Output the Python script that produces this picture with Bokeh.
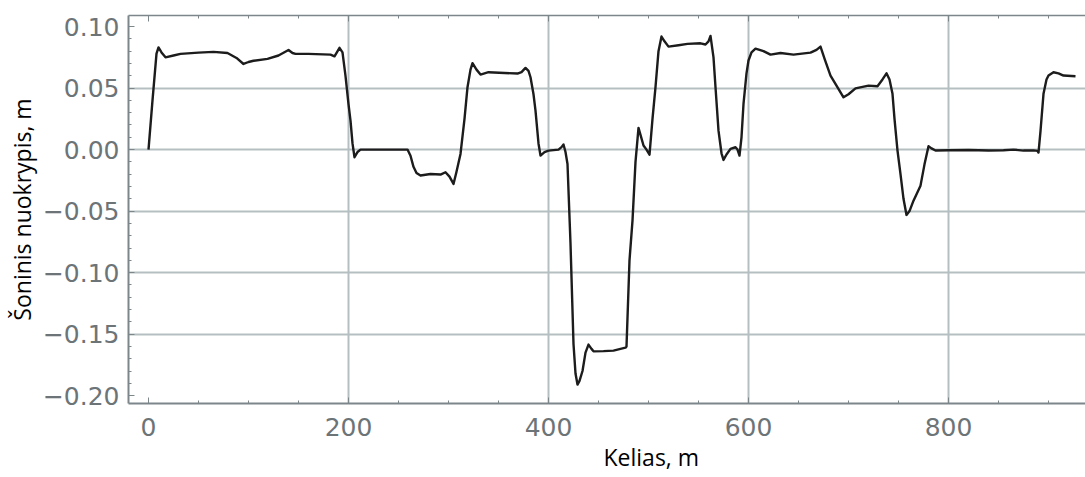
from bokeh.plotting import figure
from bokeh.models import Range1d, FixedTicker, LinearAxis, Title, ColumnDataSource
from bokeh.embed import file_html
from bokeh.resources import INLINE

# ---- data ----
distance_m = [0, 4, 8, 10, 13, 17, 25, 32, 50, 65, 79, 88, 95, 100, 105, 119, 130, 140, 144, 147,
              160, 182, 186, 191, 194, 197, 200, 202, 204, 206, 209, 212, 259, 262, 265, 268, 272,
              282, 292, 297, 301, 305, 308, 312, 316, 319, 322, 324, 328, 332, 340, 369, 373, 377,
              380, 382, 385, 387, 390, 392, 396, 400, 410, 413, 415, 417, 419, 422, 425, 427, 429,
              431, 434, 437, 440, 443, 445, 455, 465, 472, 477, 478, 481, 484, 487, 490, 492, 495,
              498, 501, 504, 507, 510, 513, 516, 520, 530, 539, 552, 557, 560, 562, 565, 567, 570,
              573, 575, 578, 582, 587, 589, 591, 593, 595, 598, 600, 603, 607, 615, 622, 632, 645,
              662, 668, 672, 676, 682, 688, 695, 700, 707, 720, 729, 734, 738, 741, 744, 746, 749,
              752, 755, 758, 761, 765, 772, 776, 780, 783, 787, 800, 820, 840, 855, 865, 875, 885,
              889, 890, 892, 895, 898, 900, 905, 910, 915, 927]
offset_m = [0.0, 0.04, 0.078, 0.083, 0.079, 0.075, 0.0765, 0.0778, 0.0788, 0.0794, 0.0785, 0.0745,
            0.0696, 0.0712, 0.0722, 0.0737, 0.0765, 0.081, 0.0785, 0.0778,
            0.0778, 0.0772, 0.0758, 0.0827, 0.079, 0.06, 0.037, 0.0236, 0.005, -0.0062, -0.002, 0.0,
            0.0, -0.005, -0.014, -0.019, -0.0211,
            -0.0198, -0.0203, -0.0184, -0.022, -0.0279, -0.018, -0.0035, 0.025, 0.0507, 0.065, 0.0702,
            0.065, 0.061, 0.0629, 0.0618, 0.063, 0.0664,
            0.064, 0.0588, 0.045, 0.0317, 0.005, -0.0049, -0.002, -0.0008, 0.0, 0.002, 0.0041, -0.002,
            -0.0117, -0.0764, -0.158, -0.182, -0.191,
            -0.188, -0.18, -0.165, -0.1585, -0.162, -0.164, -0.1638, -0.1634, -0.162, -0.161, -0.16,
            -0.09, -0.0577, -0.01, 0.0176, 0.012, 0.0033,
            0.0, -0.0041, 0.025, 0.0507, 0.08, 0.0919, 0.088, 0.0837, 0.0848, 0.0859, 0.0864, 0.0854,
            0.088, 0.0924, 0.075, 0.0507, 0.0154,
            -0.003, -0.0084, -0.004, 0.0006, 0.0019, 0.0, -0.0049, 0.01, 0.0371, 0.062, 0.0724, 0.079,
            0.0821, 0.080, 0.0772, 0.0785, 0.0772,
            0.0788, 0.081, 0.0837, 0.074, 0.0602, 0.052, 0.0425, 0.045, 0.0498, 0.052, 0.0515, 0.057,
            0.062, 0.057, 0.0453, 0.025, -0.0008,
            -0.02, -0.04, -0.0531, -0.05, -0.0415, -0.0293, -0.012, 0.0027, 0.001, -0.0008, -0.0005,
            -0.0003, -0.0008, -0.0005, 0.0, -0.0008, -0.0006,
            -0.001, -0.0024, 0.015, 0.0453, 0.057, 0.0602, 0.0629, 0.062, 0.0602, 0.0596]

x_ticks = [0, 200, 400, 600, 800]
x_minor_ticks = [v for v in range(-50, 951, 50)]
x_grid = [200, 400, 600, 800]
y_ticks = [-0.2, -0.15, -0.1, -0.05, 0.0, 0.05, 0.1]
y_tick_labels = ["\u22120.20", "\u22120.15", "\u22120.10", "\u22120.05", "0.00", "0.05", "0.10"]
y_minor_ticks = [round(-0.21 + 0.01 * i, 2) for i in range(33)]
y_grid = [-0.15, -0.1, -0.05, 0.0, 0.05]

x_title = "Kelias, m"
y_title = "Šoninis nuokrypis, m"

# ---- figure ----
p = figure(width=1085, height=477, output_backend="svg", toolbar_location=None,
           x_range=Range1d(-20, 937), y_range=Range1d(-0.2064, 0.109),
           min_border_left=128, min_border_right=0, min_border_top=15, min_border_bottom=74)
p.outline_line_color = None
p.background_fill_color = "white"
p.border_fill_color = "white"

src = ColumnDataSource(dict(x=distance_m, y=offset_m))
p.line("x", "y", source=src, line_color="#1c1c1c", line_width=2.4, line_join="round")

axis_col = "#7d878b"
lab_col = "#6c7478"

# x axis
xa = p.xaxis[0]
xa.ticker = FixedTicker(ticks=x_ticks, minor_ticks=x_minor_ticks)
xa.axis_line_color = axis_col
xa.axis_line_width = 2
xa.major_tick_line_color = axis_col
xa.minor_tick_line_color = axis_col
xa.major_tick_in = 6
xa.major_tick_out = 0
xa.minor_tick_in = 3
xa.minor_tick_out = 0
xa.major_label_text_font = "DejaVu Sans"
xa.major_label_text_font_size = "25px"
xa.major_label_text_color = lab_col
xa.major_label_standoff = 14

# y axis
ya = p.yaxis[0]
ya.ticker = FixedTicker(ticks=y_ticks, minor_ticks=y_minor_ticks)
ya.major_label_overrides = {t: s for t, s in zip(y_ticks, y_tick_labels)}
ya.axis_line_color = axis_col
ya.axis_line_width = 2
ya.major_tick_line_color = axis_col
ya.minor_tick_line_color = axis_col
ya.major_tick_in = 6
ya.major_tick_out = 0
ya.minor_tick_in = 3
ya.minor_tick_out = 0
ya.major_label_text_font = "DejaVu Sans"
ya.major_label_text_font_size = "25px"
ya.major_label_text_color = lab_col
ya.major_label_standoff = 9
ya.axis_label = y_title
ya.axis_label_text_font = "Open Sans"
ya.axis_label_text_font_size = "23px"
ya.axis_label_text_font_style = "normal"
ya.axis_label_text_color = "black"
ya.axis_label_standoff = 2

# top frame axis (no labels)
top = LinearAxis(ticker=FixedTicker(ticks=x_ticks, minor_ticks=x_minor_ticks),
                 major_label_overrides={t: "" for t in x_ticks},
                 axis_line_color=axis_col, axis_line_width=1.5,
                 major_tick_line_color=axis_col, minor_tick_line_color=axis_col,
                 major_tick_in=6, major_tick_out=0, minor_tick_in=3, minor_tick_out=0,
                 major_label_standoff=0)
p.add_layout(top, "above")

# grids
p.xgrid.ticker = FixedTicker(ticks=x_grid)
p.ygrid.ticker = FixedTicker(ticks=y_grid)
for g in (p.xgrid[0], p.ygrid[0]):
    g.grid_line_color = "#b5bfc2"
    g.grid_line_width = 2

# x axis title (placed right of centre as in the reference)
p.add_layout(Title(text=x_title, align="left", offset=475, standoff=0,
                   text_font="Open Sans", text_font_size="23px",
                   text_font_style="normal", text_color="black"), "below")

open("out.html", "w").write(file_html(p, INLINE))
